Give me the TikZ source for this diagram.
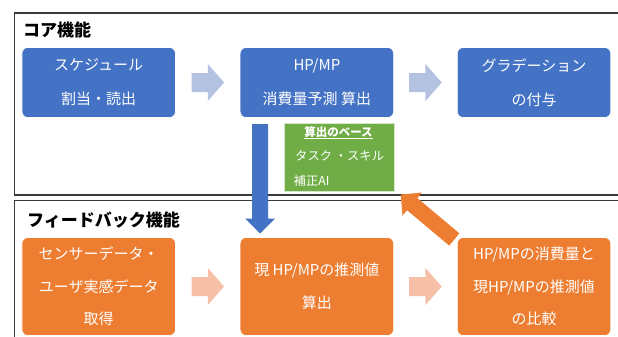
\documentclass[tikz,border=0pt]{standalone}
\usepackage{fontspec}
\setmainfont{Noto Sans CJK JP}
\usetikzlibrary{calc}
\definecolor{cblue}{HTML}{4472C4}
\definecolor{corange}{HTML}{ED7D31}
\definecolor{cgreen}{HTML}{70AD47}
\definecolor{chevblue}{HTML}{B4C2E2}
\definecolor{chevorange}{HTML}{F5BFA8}
\definecolor{framecol}{HTML}{3A3A3A}
\tikzset{
  frameline/.style={draw=framecol, line width=1.3pt},
  titletext/.style={anchor=west, inner sep=0pt, font=\fontsize{17}{20}\selectfont\bfseries, text=black},
  procbox/.style={rounded corners=6pt, draw=white, line width=0.6pt, text=white, align=center,
    minimum width=153.5pt, inner sep=0pt},
  corebox/.style={procbox, fill=cblue, minimum height=70pt, font=\fontsize{15}{34}\selectfont},
  fbbox/.style={procbox, fill=corange, minimum height=98pt, font=\fontsize{15}{32.5}\selectfont},
  gbox/.style={fill=cgreen, draw=white!70!cgreen, line width=0.6pt, minimum width=110pt, minimum height=68.5pt, inner sep=0pt},
  gtext/.style={text=white, inner sep=0pt, font=\fontsize{12.3}{14}\selectfont},
}
\newcommand\mychevron[2]{% coordinate name, colour
  \fill[#2] ([shift={(-16.3,-9.5)}]#1) -- ([shift={(0,-9.5)}]#1) -- ([shift={(0,-18.5)}]#1)
    -- ([shift={(16.3,0)}]#1) -- ([shift={(0,18.5)}]#1) -- ([shift={(0,9.5)}]#1)
    -- ([shift={(-16.3,9.5)}]#1) -- cycle;}
\begin{document}
\begin{tikzpicture}[x=1pt,y=-1pt]
\useasboundingbox (0,0) rectangle (618,337);
% frames
\draw[frameline] (620,13) -- (14.3,13) -- (14.3,195) -- (620,195);
\draw[frameline] (620,200.5) -- (14.3,200.5) -- (14.3,345);
\node[titletext] (t1) at (23,30) {コア機能};
\node[titletext] (t2) at (27,220) {フィードバック機能};

% orange diagonal arrow (behind boxes)
\coordinate (otip) at (400.7,194.5);
\coordinate (otail) at (454.3,239.5);
\fill[corange] (otip) -- (421.8,192.6) -- (417.3,198.0) -- (459.4,233.4)
  -- (449.2,245.6) -- (407.1,210.2) -- (402.5,215.6) -- cycle;

% core boxes
\node[corebox] (b1) at (98.7,82.5) {スケジュール\\割当・読出};
\node[corebox] (b2) at (316.9,82.5) {HP/MP\\消費量予測 算出};
\node[corebox] (b3) at (534,82.5) {グラデーション\\の付与};

% feedback boxes
\node[fbbox] (b4) at (98.7,286.5) {センサーデータ・\\ユーザ実感データ\\取得};
\node[fbbox] (b5) at (316.9,286.5) {現 HP/MPの推測値\\算出};
\node[fbbox] (b6) at (534,286.5) {HP/MPの消費量と\\現HP/MPの推測値\\の比較};

% chevrons
\coordinate (c1) at ($(b1.east)!0.5!(b2.west)$);
\coordinate (c2) at ($(b2.east)!0.5!(b3.west)$);
\coordinate (c3) at ($(b4.east)!0.5!(b5.west)$);
\coordinate (c4) at ($(b5.east)!0.5!(b6.west)$);
\mychevron{c1}{chevblue}
\mychevron{c2}{chevblue}
\mychevron{c3}{chevorange}
\mychevron{c4}{chevorange}

% green box
\node[gbox] (g) at (339.3,157.5) {};
\node[gtext, font=\fontsize{11.5}{14}\selectfont\bfseries] (g1) at (338.5,132.7) {\underline{算出のベース}};
\node[gtext, anchor=west] (g2) at (295,156) {タスク ・スキル};
\node[gtext, anchor=west] (g3) at (293.5,180.5) {補正AI};

% blue down arrow
\coordinate (btop) at (260,124);
\coordinate (btip) at (260,233.5);
\fill[cblue] ([xshift=-8]btop) -- ([xshift=8]btop) -- (268,218.5) -- (275,218.5)
  -- (btip) -- (245,218.5) -- (252,218.5) -- cycle;
\end{tikzpicture}
\end{document}
